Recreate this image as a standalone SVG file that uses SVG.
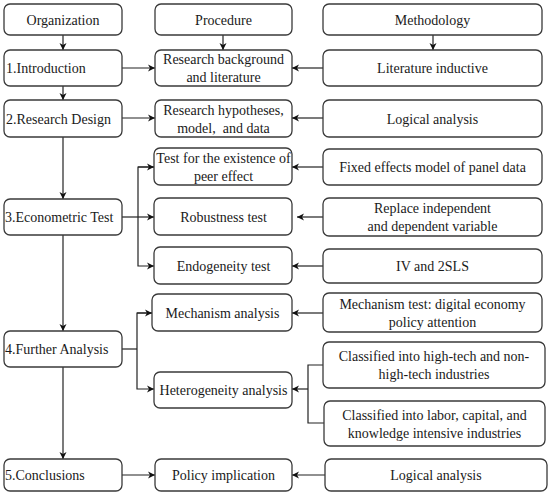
<svg xmlns="http://www.w3.org/2000/svg" width="550" height="494" viewBox="0 0 550 494">
<defs>
<marker id="ah" markerWidth="8" markerHeight="8" refX="7" refY="4" orient="auto" markerUnits="userSpaceOnUse">
<path d="M0,0.5 L7,4 L0,7.5 L2,4 Z" fill="#111"/>
</marker>
<style>
.b{fill:#fff;stroke:#3a3a3a;stroke-width:1.3}
.t{font-family:"Liberation Serif","Times New Roman",serif;font-size:14px;fill:#1a1a1a}
.c{text-anchor:middle}
.l{fill:none;stroke:#222;stroke-width:1.2}
</style>
</defs>
<rect width="550" height="494" fill="#fff"/>
<g id="connectors">
<line class="l" x1="63" y1="35" x2="63" y2="50" marker-end="url(#ah)"/>
<line class="l" x1="63" y1="86" x2="63" y2="100" marker-end="url(#ah)"/>
<line class="l" x1="63" y1="137" x2="63" y2="199" marker-end="url(#ah)"/>
<line class="l" x1="63" y1="235" x2="63" y2="331" marker-end="url(#ah)"/>
<line class="l" x1="63" y1="367" x2="63" y2="459" marker-end="url(#ah)"/>
<line class="l" x1="223" y1="35" x2="223" y2="50" marker-end="url(#ah)"/>
<line class="l" x1="433" y1="35" x2="433" y2="50" marker-end="url(#ah)"/>
<line class="l" x1="122" y1="68" x2="155" y2="68" marker-end="url(#ah)"/>
<line class="l" x1="122" y1="118" x2="155" y2="118" marker-end="url(#ah)"/>
<line class="l" x1="323" y1="68" x2="292" y2="68" marker-end="url(#ah)"/>
<line class="l" x1="323" y1="118" x2="292" y2="118" marker-end="url(#ah)"/>
<polyline class="l" points="122,217 138,217"/>
<polyline class="l" points="154,167 138,167 138,266 154,266" marker-end="url(#ah)"/>
<line class="l" x1="138" y1="167" x2="154" y2="167" marker-end="url(#ah)"/>
<line class="l" x1="138" y1="217" x2="154" y2="217" marker-end="url(#ah)"/>
<line class="l" x1="323" y1="167" x2="292" y2="167" marker-end="url(#ah)"/>
<line class="l" x1="323" y1="217" x2="297" y2="217" marker-end="url(#ah)"/>
<line class="l" x1="323" y1="266" x2="292" y2="266" marker-end="url(#ah)"/>
<polyline class="l" points="122,349 137,349"/>
<polyline class="l" points="152,313 137,313 137,389 154,389" marker-end="url(#ah)"/>
<line class="l" x1="137" y1="313" x2="152" y2="313" marker-end="url(#ah)"/>
<line class="l" x1="323" y1="313" x2="292" y2="313" marker-end="url(#ah)"/>
<polyline class="l" points="323,365 308,365 308,423 324,423"/>
<line class="l" x1="308" y1="389" x2="292" y2="389" marker-end="url(#ah)"/>
<line class="l" x1="122" y1="475" x2="155" y2="475" marker-end="url(#ah)"/>
<line class="l" x1="325" y1="475" x2="292" y2="475" marker-end="url(#ah)"/>
</g>
<g id="organization"><rect class="b" x="4" y="4" width="118" height="31" rx="6"/><text class="t c" x="63" y="24.5">Organization</text></g>
<g id="procedure"><rect class="b" x="155" y="4" width="137" height="31" rx="6"/><text class="t c" x="223.5" y="24.5">Procedure</text></g>
<g id="methodology"><rect class="b" x="323" y="4" width="219" height="31" rx="6"/><text class="t c" x="432.5" y="24.5">Methodology</text></g>

<g id="introduction"><rect class="b" x="4" y="50" width="118" height="36" rx="6"/><text class="t" x="6" y="73">1.Introduction</text></g>
<g id="research-background"><rect class="b" x="155" y="50" width="137" height="36" rx="6"/><text class="t c" x="223.5" y="64">Research background</text><text class="t c" x="223.5" y="82">and literature</text></g>
<g id="literature-inductive"><rect class="b" x="323" y="50" width="219" height="36" rx="6"/><text class="t c" x="432.5" y="73">Literature inductive</text></g>

<g id="research-design"><rect class="b" x="4" y="100" width="118" height="37" rx="6"/><text class="t" x="6" y="123.5">2.Research Design</text></g>
<g id="research-hypotheses"><rect class="b" x="155" y="100" width="137" height="37" rx="6"/><text class="t c" x="223.5" y="114.5">Research hypotheses,</text><text class="t c" x="223.5" y="132.5">model,&#160; and data</text></g>
<g id="logical-analysis-1"><rect class="b" x="323" y="100" width="219" height="37" rx="6"/><text class="t c" x="432.5" y="123.5">Logical analysis</text></g>

<g id="econometric-test"><rect class="b" x="4" y="199" width="118" height="36" rx="6"/><text class="t" x="5" y="222">3.Econometric Test</text></g>
<g id="peer-effect"><rect class="b" x="154" y="148" width="138" height="37" rx="6"/><text class="t c" x="223.5" y="162.5">Test for the existence of</text><text class="t c" x="223.5" y="180.5">peer effect</text></g>
<g id="fixed-effects"><rect class="b" x="323" y="149" width="219" height="36" rx="6"/><text class="t c" x="432.5" y="172">Fixed effects model of panel data</text></g>
<g id="robustness"><rect class="b" x="154" y="198" width="138" height="37" rx="6"/><text class="t c" x="223.5" y="221.5">Robustness test</text></g>
<g id="replace"><rect class="b" x="323" y="198" width="219" height="38" rx="6"/><text class="t c" x="432.5" y="213">Replace independent</text><text class="t c" x="432.5" y="231">and dependent variable</text></g>
<g id="endogeneity"><rect class="b" x="154" y="247" width="138" height="37" rx="6"/><text class="t c" x="223.5" y="270.5">Endogeneity test</text></g>
<g id="iv-2sls"><rect class="b" x="323" y="249" width="219" height="34" rx="6"/><text class="t c" x="432.5" y="271">IV and 2SLS</text></g>

<g id="further-analysis"><rect class="b" x="4" y="331" width="118" height="36" rx="6"/><text class="t" x="5" y="354">4.Further Analysis</text></g>
<g id="mechanism-analysis"><rect class="b" x="152" y="294" width="140" height="37" rx="6"/><text class="t c" x="222.5" y="317.5">Mechanism analysis</text></g>
<g id="mechanism-test"><rect class="b" x="323" y="293" width="219" height="39" rx="6"/><text class="t c" x="432.5" y="308.5">Mechanism test: digital economy</text><text class="t c" x="432.5" y="326.5">policy attention</text></g>
<g id="heterogeneity"><rect class="b" x="154" y="372" width="138" height="36" rx="6"/><text class="t c" x="223.5" y="395">Heterogeneity analysis</text></g>
<g id="high-tech"><rect class="b" x="323" y="342" width="222" height="46" rx="6"/><text class="t c" x="434" y="361">Classified into high-tech and non-</text><text class="t c" x="434" y="379">high-tech industries</text></g>
<g id="labor-capital"><rect class="b" x="324" y="401" width="221" height="45" rx="6"/><text class="t c" x="434.5" y="419.5">Classified into labor, capital, and</text><text class="t c" x="434.5" y="437.5">knowledge intensive industries</text></g>

<g id="conclusions"><rect class="b" x="4" y="459" width="118" height="32" rx="6"/><text class="t" x="5" y="480">5.Conclusions</text></g>
<g id="policy-implication"><rect class="b" x="155" y="459" width="137" height="32" rx="6"/><text class="t c" x="223.5" y="480">Policy implication</text></g>
<g id="logical-analysis-2"><rect class="b" x="325" y="459" width="222" height="32" rx="6"/><text class="t c" x="436" y="480">Logical analysis</text></g>
</svg>
